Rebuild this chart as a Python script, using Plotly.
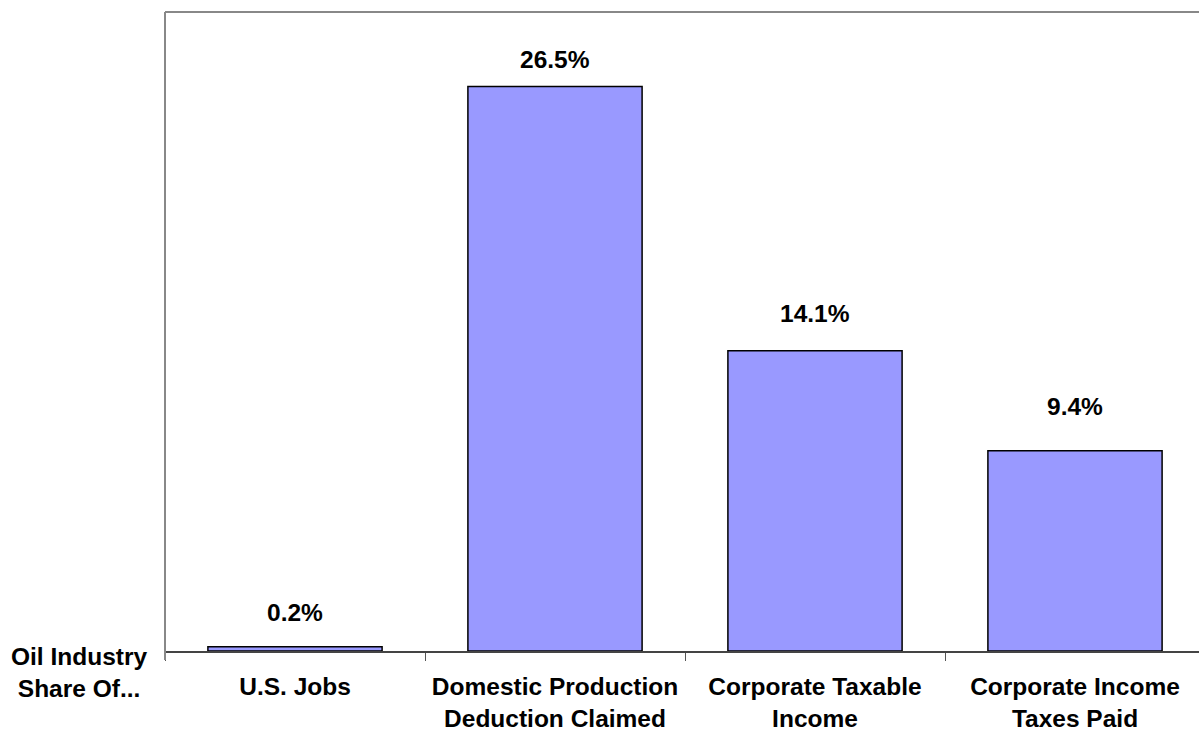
import plotly.graph_objects as go

categories = ["U.S. Jobs", "Domestic Production<br>Deduction Claimed",
              "Corporate Taxable<br>Income", "Corporate Income<br>Taxes Paid"]
values = [0.2, 26.5, 14.1, 9.4]
value_labels = ["0.2%", "26.5%", "14.1%", "9.4%"]
label_gap_px = [24, 17, 27, 34]  # styling: gap between bar top and label

FONT = "Liberation Sans, Arial, sans-serif"
FS = 24.5

fig = go.Figure()
fig.add_trace(go.Bar(
    x=categories, y=values, width=0.67,
    marker=dict(color="#9999FF", line=dict(color="#000000", width=1.5)),
    hoverinfo="skip",
))

for c, v, t, g in zip(categories, values, value_labels, label_gap_px):
    fig.add_annotation(x=c, y=v, text="<b>%s</b>" % t, showarrow=False,
                       yanchor="bottom", yshift=g - 5,
                       font=dict(family=FONT, size=FS, color="#000000"))

W, H = 1199, 732
L, R, T, B = 165, 0, 12, 81
pw = W - L - R
fig.add_annotation(xref="paper", yref="paper",
                   x=(79 - L) / pw, y=-(672 - (H - B)) / (H - T - B),
                   text="<b>Oil Industry<br>Share Of...</b>", showarrow=False,
                   xanchor="center", yanchor="middle", align="center",
                   font=dict(family=FONT, size=FS, color="#000000"))

fig.add_shape(type="line", xref="paper", yref="paper", x0=0, x1=1, y0=1, y1=1,
              line=dict(color="#888888", width=2))
fig.add_shape(type="line", xref="paper", yref="paper", x0=0, x1=0, y0=1, y1=-9 / (H - T - B),
              line=dict(color="#888888", width=2))

fig.update_layout(
    width=W, height=H,
    margin=dict(l=L, r=R, t=T, b=B, autoexpand=False),
    plot_bgcolor="#FFFFFF", paper_bgcolor="#FFFFFF",
    showlegend=False,
    xaxis=dict(
        type="category", range=[-0.5, -0.5 + pw / 260],
        showgrid=False, zeroline=False, automargin=False,
        showline=True, linecolor="#444444", linewidth=1.5,
        ticks="outside", tickson="boundaries", ticklen=8, tickcolor="#555555",
        tickwidth=1,
        tickfont=dict(family=FONT, size=FS, color="#000000"),
        ticklabelstandoff=13,
    ),
    yaxis=dict(
        range=[0, 30], showgrid=False, zeroline=False, showticklabels=False,
        showline=False, ticks="", automargin=False,
    ),
)

fig.update_xaxes(ticktext=["<b>%s</b>" % c for c in categories], tickvals=categories)

fig.write_html("out.html")
